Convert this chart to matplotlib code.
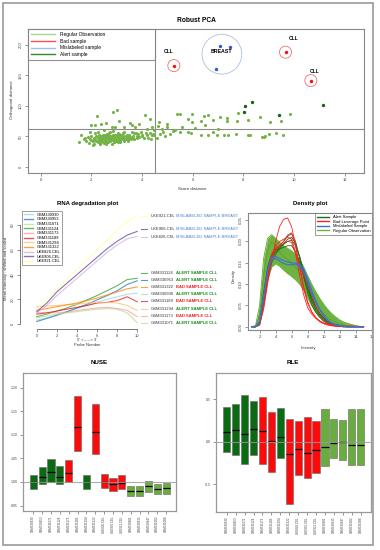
import matplotlib
matplotlib.use('Agg')
import matplotlib.pyplot as plt
from matplotlib.lines import Line2D

plt.rcParams['font.family'] = ['Liberation Sans', 'DejaVu Sans']

# ---------------- Robust PCA ----------------
reg_points = [
    (1.50, 41), (1.60, 52), (1.70, 45), (1.75, 47), (1.80, 43), (1.85, 49), (1.90, 39), (1.95, 46), (2.00, 50), (2.00, 44),
    (2.05, 42), (2.10, 48), (2.10, 38), (2.15, 45), (2.20, 51), (2.20, 43), (2.25, 47), (2.25, 40), (2.30, 49), (2.30, 44),
    (2.35, 46), (2.35, 37), (2.40, 50), (2.40, 42), (2.40, 48), (2.45, 53), (2.45, 41), (2.50, 45), (2.50, 39), (2.50, 47),
    (2.55, 52), (2.55, 44), (2.60, 49), (2.60, 43), (2.60, 46), (2.65, 40), (2.65, 51), (2.70, 45), (2.70, 48), (2.70, 55),
    (2.75, 42), (2.75, 47), (2.80, 50), (2.80, 38), (2.80, 46), (2.85, 53), (2.85, 44), (2.90, 49), (2.90, 41), (2.90, 48),
    (2.95, 45), (2.95, 52), (3.00, 43), (3.00, 47), (3.00, 50), (3.05, 40), (3.05, 46), (3.10, 54), (3.10, 44), (3.10, 49),
    (3.15, 48), (3.15, 42), (3.20, 51), (3.20, 45), (3.25, 56), (3.25, 47), (3.30, 43), (3.30, 50), (3.35, 46), (3.40, 53),
    (3.40, 49), (3.45, 44), (3.50, 47), (3.50, 52), (3.55, 45), (3.60, 58), (3.60, 48), (3.65, 50), (3.70, 46), (3.75, 55),
    (3.80, 51), (3.80, 47), (3.85, 54), (3.90, 49), (3.95, 57), (4.00, 52), (4.00, 50), (4.10, 48), (4.15, 55), (4.20, 53),
    (4.25, 47), (4.30, 56), (4.35, 45), (4.40, 52), (4.45, 54), (2.05, 36), (2.35, 39), (2.60, 37), (2.90, 41), (3.15, 40),
    (3.45, 43), (2.25, 58), (2.75, 57), (3.05, 56), (1.95, 57), (2.50, 60), (2.85, 59), (3.30, 58), (3.70, 55), (2.15, 56),
    (2.12, 46), (2.28, 42), (2.42, 45), (2.58, 41), (2.68, 43), (2.78, 44), (2.88, 46), (2.98, 42), (3.08, 45), (3.22, 47),
    (3.38, 45), (3.52, 49), (2.32, 52), (2.48, 50), (2.62, 54), (2.72, 50), (2.92, 53), (3.02, 52), (3.18, 53), (3.42, 51),
    (4.47, 52.5), (4.71, 54.5), (5.12, 54.7), (4.85, 57), (5.24, 59.5), (5.51, 57), (5.94, 55), (6.34, 52), (6.62, 52), (6.79, 58),
    (6.98, 52.5), (7.25, 52), (7.40, 51.7), (7.71, 54.5), (8.18, 52), (8.26, 53), (8.73, 49.7), (8.87, 50.8), (8.83, 49), (9.00, 54.5),
    (9.29, 55), (9.56, 52.5), (4.49, 60.6), (4.65, 67), (4.99, 64.8), (4.67, 73), (4.20, 62), (4.40, 65), (4.60, 48), (4.90, 50),
    (5.30, 61), (5.60, 66), (6.10, 63), (6.50, 68), (5.00, 70), (4.80, 62), (5.80, 58), (7.00, 62),
    (3.03, 93.4), (2.85, 90.7), (2.22, 83.9), (4.11, 85.6), (5.38, 87), (5.51, 85.9), (5.96, 86), (6.47, 84), (6.60, 85.6), (7.07, 81),
    (7.81, 88), (8.65, 81.5), (9.86, 87), (7.35, 80), (6.80, 77), (5.81, 77.7), (7.36, 75), (8.17, 77), (7.74, 75), (9.05, 73.7),
    (9.50, 75), (6.34, 75), (5.96, 73), (2.60, 72), (3.10, 75), (2.40, 70), (3.60, 68), (3.90, 71), (4.30, 78), (3.30, 66),
    (2.00, 68), (2.80, 65), (2.15, 69), (2.94, 66), (3.53, 72.7), (3.73, 66),
]
reg_x = [p[0] for p in reg_points]
reg_y = [p[1] for p in reg_points]
alert_x = [8.07, 8.35, 8.04, 9.43, 11.16]
alert_y = [100, 107, 90, 85, 102]
bad_x = [5.26, 9.67, 10.67]
bad_y = [166, 188, 141.5]
mis_x = [7.07, 7.48, 6.92]
mis_y = [198, 196, 160]
cut_score = 4.52
cut_orth = 62

# ---------------- RNA degradation ----------------
probe = [0, 1, 2, 3, 4, 5, 6, 7, 8, 9, 10]
rna_names = ['GSM330930', 'GSM330953', 'GSM331071', 'GSM331124', 'GSM331173', 'GSM331189',
             'GSM331294', 'GSM331322', 'UKE826.CEL', 'UKE906.CEL', 'UKE921.CEL']
rna_vals = [
    [3, 5, 7.5, 10, 12.5, 15, 17.5, 20, 22, 24, 25],
    [2, 4.5, 7, 10, 13, 16, 19.5, 23, 27, 32, 35],
    [5, 6.5, 8, 9, 10, 11, 12, 12.5, 12, 9, 1],
    [6, 8, 10.5, 13, 16, 19.5, 23, 27, 31, 36, 37],
    [9, 9.5, 9, 9.5, 11, 12, 13, 13.5, 12.5, 11, 6],
    [8, 9, 10.5, 12, 13.5, 15, 17, 17.5, 19, 22, 18],
    [14, 14.5, 15, 15.5, 16, 17, 17.5, 17.5, 17, 15, 11],
    [11, 12.5, 14, 15.5, 17, 19, 21, 23.5, 26, 28.5, 30],
    [9, 15, 23, 30, 37, 44, 51, 58, 64, 69, 71],
    [10, 17, 26, 33, 40, 47, 54, 61, 67, 72, 75],
    [12, 20, 28, 36, 44, 52, 60, 68, 76, 83, 88],
]
rna_colors = ['#A6CEE3', '#1F78B4', '#B2DF8A', '#33A02C', '#FB9A99', '#E31A1C',
              '#FDBF6F', '#FF7F00', '#CAB2D6', '#6A3D9A', '#FFFF99']
rna_status = ['ALERT SAMPLE CLL', 'ALERT SAMPLE CLL', 'ALERT SAMPLE CLL', 'ALERT SAMPLE CLL',
              'BAD SAMPLE CLL', 'BAD SAMPLE CLL', 'ALERT SAMPLE CLL', 'BAD SAMPLE CLL',
              'MISLABELED SAMPLE BREAST', 'MISLABELED SAMPLE BREAST', 'MISLABELED SAMPLE BREAST']
label_rows_px = [216, 229.3, 237, 273.3, 280.3, 287.3, 294.3, 301.3, 308.7, 316, 323]

# ---------------- Density ----------------
dens_x = [1.0, 1.5, 2.0, 2.5, 3.0, 3.5, 4.0, 4.5, 5.0, 5.5, 6.0, 6.5, 7.0, 7.5, 8.0,
          8.5, 9.0, 9.5, 10.0, 10.5, 11.0, 11.5, 12.0, 12.5, 13.0, 13.5, 14.0, 14.5, 15.0]
reg_hi = [0, 0.003, 0.05, 0.16, 0.207, 0.216, 0.207, 0.198, 0.19, 0.184, 0.178, 0.17, 0.158, 0.14, 0.12,
          0.1, 0.083, 0.067, 0.053, 0.041, 0.031, 0.023, 0.016, 0.011, 0.008, 0.005, 0.003, 0.001, 0]
reg_lo = [0, 0, 0.004, 0.05, 0.11, 0.14, 0.148, 0.142, 0.133, 0.125, 0.118, 0.11, 0.1, 0.086, 0.068,
          0.05, 0.035, 0.024, 0.015, 0.009, 0.005, 0.002, 0.001, 0, 0, 0, 0, 0, 0]
reg_mid = [0, 0.001, 0.03, 0.12, 0.18, 0.2, 0.19, 0.175, 0.165, 0.158, 0.15, 0.14, 0.128, 0.11, 0.09,
           0.07, 0.055, 0.042, 0.031, 0.022, 0.015, 0.01, 0.006, 0.004, 0.002, 0.001, 0, 0, 0]
alert_dens = [
    [0, 0, 0.01, 0.07, 0.13, 0.16, 0.175, 0.185, 0.195, 0.205, 0.21, 0.195, 0.165, 0.125, 0.088,
     0.06, 0.04, 0.026, 0.016, 0.009, 0.005, 0.003, 0.001, 0, 0, 0, 0, 0, 0],
    [0, 0, 0.008, 0.06, 0.125, 0.165, 0.18, 0.19, 0.2, 0.212, 0.218, 0.2, 0.16, 0.118, 0.08,
     0.052, 0.034, 0.022, 0.013, 0.007, 0.004, 0.002, 0.001, 0, 0, 0, 0, 0, 0],
    [0, 0, 0.012, 0.08, 0.14, 0.17, 0.18, 0.182, 0.186, 0.19, 0.19, 0.175, 0.15, 0.118, 0.09,
     0.066, 0.047, 0.032, 0.021, 0.013, 0.008, 0.005, 0.003, 0.001, 0, 0, 0, 0, 0],
    [0, 0, 0.006, 0.05, 0.11, 0.15, 0.17, 0.183, 0.193, 0.2, 0.203, 0.19, 0.165, 0.132, 0.1,
     0.07, 0.047, 0.03, 0.018, 0.01, 0.006, 0.003, 0.002, 0.001, 0, 0, 0, 0, 0],
]
bad_dens = [
    [0, 0, 0.005, 0.04, 0.1, 0.155, 0.2, 0.235, 0.252, 0.255, 0.235, 0.19, 0.14, 0.095, 0.06,
     0.036, 0.021, 0.012, 0.007, 0.004, 0.002, 0.001, 0, 0, 0, 0, 0, 0, 0],
    [0, 0, 0.008, 0.06, 0.12, 0.16, 0.18, 0.19, 0.2, 0.215, 0.22, 0.19, 0.14, 0.09, 0.055,
     0.035, 0.022, 0.014, 0.009, 0.006, 0.004, 0.003, 0.002, 0.001, 0.001, 0.001, 0.001, 0, 0],
    [0, 0, 0.006, 0.05, 0.11, 0.165, 0.19, 0.2, 0.205, 0.21, 0.205, 0.175, 0.142, 0.12, 0.1,
     0.075, 0.05, 0.03, 0.017, 0.009, 0.005, 0.003, 0.002, 0.001, 0.001, 0.002, 0.001, 0, 0],
    [0, 0, 0.01, 0.07, 0.13, 0.17, 0.185, 0.19, 0.195, 0.2, 0.198, 0.17, 0.12, 0.075, 0.045,
     0.03, 0.02, 0.013, 0.008, 0.005, 0.003, 0.002, 0.001, 0, 0, 0, 0, 0, 0],
]
mis_dens = [
    [0, 0, 0.01, 0.065, 0.13, 0.162, 0.165, 0.16, 0.155, 0.152, 0.15, 0.149, 0.146, 0.136, 0.112,
     0.086, 0.062, 0.042, 0.027, 0.016, 0.009, 0.005, 0.003, 0.001, 0, 0, 0, 0, 0],
    [0, 0, 0.012, 0.07, 0.135, 0.158, 0.16, 0.154, 0.148, 0.146, 0.145, 0.147, 0.142, 0.128, 0.105,
     0.08, 0.058, 0.04, 0.026, 0.015, 0.008, 0.004, 0.002, 0.001, 0, 0, 0, 0, 0],
]

# ---------------- NUSE / RLE ----------------
samples = ['GSM330930', 'GSM330953', 'GSM331071', 'GSM331124', 'GSM331173', 'GSM331189',
           'GSM331294', 'GSM331322', 'UKE826.CEL', 'UKE906.CEL', 'UKE921.CEL',
           'GSM330901', 'GSM330915', 'GSM330947', 'GSM331002', 'GSM331088']
sample_group = ['alert', 'alert', 'alert', 'alert', 'bad', 'bad', 'alert', 'bad',
                'bad', 'bad', 'bad', 'reg', 'reg', 'reg', 'reg', 'reg']
nuse_low = [0.986, 0.995, 1.000, 0.9965, 1.000, 1.066, 0.986, 1.059, 0.9866, 0.9816, 0.9845,
            0.971, 0.971, 0.9788, 0.9746, 0.9753]
nuse_med = [1.000, 1.0099, 1.0205, 1.0113, 1.019, 1.1158, 1.000, 1.1052, 1.000, 0.995, 0.9986,
            0.9816, 0.9816, 0.9922, 0.9852, 0.9866]
nuse_high = [1.0148, 1.0318, 1.0487, 1.0346, 1.0459, 1.182, 1.0141, 1.1645, 1.0162, 1.0078, 1.0141,
             0.9922, 0.9922, 1.0028, 0.9958, 0.9972]
rle_low = [-0.125, -0.160, -0.262, -0.156, -0.262, -0.355, -0.191, -0.730, -0.395, -0.422, -0.371,
           -0.285, -0.188, -0.211, -0.277, -0.270]
rle_med = [0.109, 0.133, 0.094, 0.148, 0.121, 0.008, 0.051, -0.148, -0.086, -0.137, -0.102,
           -0.066, -0.016, -0.008, -0.035, -0.043]
rle_high = [0.402, 0.441, 0.551, 0.477, 0.527, 0.344, 0.391, 0.266, 0.238, 0.285, 0.238,
            0.383, 0.262, 0.254, 0.383, 0.379]

group_color = {'alert': '#0b6b12', 'bad': '#ff0a0a', 'reg': '#6aad3f'}

W, H = 380, 550


def box(l, t, r, b):
    return [l / W, 1 - b / H, (r - l) / W, (b - t) / H]


def ftext(x, y, s, **kw):
    fig.text(x / W, 1 - y / H, s, **kw)


def r_ticks(ax):
    ax.tick_params(labelsize=3, length=2, width=0.4, pad=1.5, colors='#444')
    for lab in ax.get_yticklabels():
        lab.set_rotation(90)
        lab.set_va('center')


fig = plt.figure(figsize=(3.8, 5.5), dpi=100)
fig.add_artist(plt.Rectangle((3 / W, 1 - 545 / H), 370 / W, 542 / H, fill=False,
                             ec='#9a9a9a', lw=1.2, transform=fig.transFigure))

# PCA
ax1 = fig.add_axes(box(28, 29, 364, 173))
ax1.scatter(reg_x, reg_y, s=5, c='#74b347', lw=0, zorder=3)
ax1.scatter(alert_x, alert_y, s=6, c='#17611a', lw=0, zorder=3)
ax1.scatter(bad_x, bad_y, s=6, c='#ee1111', lw=0, zorder=3)
ax1.scatter(mis_x, mis_y, s=6, c='#3355dd', lw=0, zorder=3)
ax1.scatter(bad_x, bad_y, s=75, facecolors='none', edgecolors='#f07070', lw=0.6, zorder=3)
ax1.scatter([sum(mis_x) / 3], [sum(mis_y) / 3], s=820, facecolors='none',
            edgecolors='#a9bfe0', lw=0.6, zorder=3)
for bx, by, off in zip(bad_x, bad_y, [(-4, 8), (6, 8), (3, 5)]):
    ax1.annotate('CLL', (bx, by), xytext=off, textcoords='offset points', fontsize=3.5,
                 fontweight='bold', ha='center', va='bottom')
ax1.text(sum(mis_x) / 3, sum(mis_y) / 3 + 5, 'BREAST', fontsize=3.8, fontweight='bold',
         ha='center', va='center')
ax1.axvline(cut_score, color='#8a8a8a', lw=0.8, zorder=1)
ax1.axhline(cut_orth, color='#8a8a8a', lw=0.8, zorder=1)
ax1.set_xlim(-0.5, 12.77)
ax1.set_ylim(-10, 226)
ax1.set_xticks([0, 2, 4, 6, 8, 10, 12])
ax1.set_yticks([0, 50, 100, 150, 200])
r_ticks(ax1)
for sp in ax1.spines.values():
    sp.set_color('#888')
    sp.set_linewidth(0.8)
pca_handles = [Line2D([], [], color=c, lw=1) for c in ['#a8d48a', '#ff4d4d', '#9fc3ea', '#2e8b30']]
leg = ax1.legend(pca_handles, ['Regular Observation', 'Bad sample', 'Mislabeled sample', 'Alert sample'],
                 loc='upper left', bbox_to_anchor=(0, 0, (cut_score + 0.5) / 13.27, 1), mode='expand',
                 borderaxespad=0, fontsize=3.5, handlelength=5, labelspacing=0.35,
                 fancybox=False, borderpad=0.6, handletextpad=1)
leg.get_frame().set_edgecolor('#777')
leg.get_frame().set_linewidth(0.8)
ftext(196, 20, 'Robust PCA', fontsize=4.8, fontweight='bold', ha='center', va='center')
ftext(192, 189, 'Score distance', fontsize=3.2, ha='center', va='center', color='#333')
ftext(12, 100, 'Orthogonal distance', fontsize=3.2, ha='center', va='center', rotation=90, color='#333')

# RNA degradation
ax2 = fig.add_axes(box(20, 212, 143, 329))
for vals, c in zip(rna_vals, rna_colors):
    ax2.plot(probe, vals, color=c, lw=0.8, alpha=0.75)
ax2.set_xlim(-1.67, 10.57)
ax2.set_ylim(-4.05, 90.7)
ax2.set_xticks([0, 2, 4, 6, 8, 10])
ax2.set_yticks([0, 20, 40, 60, 80])
for s in ['top', 'right']:
    ax2.spines[s].set_visible(False)
ax2.spines['left'].set_bounds(0, 80)
ax2.spines['bottom'].set_bounds(0, 10)
for s in ['left', 'bottom']:
    ax2.spines[s].set_linewidth(0.5)
    ax2.spines[s].set_color('#444')
r_ticks(ax2)
rna_handles = [Line2D([], [], color=c, lw=1, alpha=0.75) for c in rna_colors]
leg2 = ax2.legend(rna_handles, rna_names, loc='upper left', bbox_to_anchor=(0.016, 1.0085),
                  borderaxespad=0, fontsize=2.9, handlelength=2.4, labelspacing=0.16,
                  fancybox=False, borderpad=0.45, handletextpad=0.7)
leg2.get_frame().set_edgecolor('#555')
leg2.get_frame().set_linewidth(0.5)
order = sorted(range(len(rna_names)), key=lambda i: -rna_vals[i][-1])
for row, i in zip(label_rows_px, order):
    fig.add_artist(Line2D([140.7 / W, 146.7 / W], [1 - row / H] * 2, color=rna_colors[i],
                          lw=0.8, alpha=0.75, transform=fig.transFigure))
    ftext(150.7, row, rna_names[i], fontsize=3, va='center', color='#333')
    st = rna_status[i]
    if st.startswith('MIS'):
        ftext(176, row, st, fontsize=3, va='center', color='#4a7fd0')
    elif st.startswith('BAD'):
        ftext(176, row, st, fontsize=3, va='center', color='#ee2020', fontweight='bold')
    else:
        ftext(176, row, st, fontsize=3, va='center', color='#178a17', fontweight='bold')
ftext(88, 203, 'RNA degradation plot', fontsize=4.3, fontweight='bold', ha='center', va='center')
ftext(87, 340, "5' <-----> 3'", fontsize=3, ha='center', va='center', color='#333')
ftext(87, 345.5, 'Probe Number', fontsize=3, ha='center', va='center', color='#333')
ftext(6, 268, 'Mean Intensity : shifted and scaled', fontsize=3, ha='center', va='center',
      rotation=90, color='#333')

# Density
ax3 = fig.add_axes(box(248, 213.3, 372, 330))
ax3.fill_between(dens_x, reg_lo, reg_hi, color='#6db33f', lw=0, zorder=1)
ax3.plot(dens_x, reg_hi, color='#6db33f', lw=0.7, zorder=1)
ax3.plot(dens_x, reg_lo, color='#6db33f', lw=0.7, zorder=1)
ax3.plot(dens_x, reg_mid, color='#5a9e30', lw=0.5, zorder=1)
for d in alert_dens:
    ax3.plot(dens_x, d, color='#17701a', lw=0.6, zorder=2)
for d in bad_dens:
    ax3.plot(dens_x, d, color='#ff2020', lw=0.6, zorder=2)
for d in mis_dens:
    ax3.plot(dens_x, d, color='#3d6fd8', lw=0.8, zorder=3)
ax3.set_xlim(0.55, 16.05)
ax3.set_ylim(-0.0077, 0.266)
ax3.set_xticks([2, 4, 6, 8, 10, 12, 14, 16])
ax3.set_yticks([0, 0.05, 0.10, 0.15, 0.20, 0.25])
ax3.set_yticklabels(['0.00', '0.05', '0.10', '0.15', '0.20', '0.25'])
r_ticks(ax3)
for sp in ax3.spines.values():
    sp.set_color('#888')
    sp.set_linewidth(0.8)
dens_handles = [Line2D([], [], color=c, lw=1) for c in ['#17701a', '#ff2020', '#3d6fd8', '#6db33f']]
leg3 = ax3.legend(dens_handles, ['Alert Sample', 'Bad Leverage Point', 'Mislabeled Sample',
                                 'Regular Observation'],
                  loc='upper right', borderaxespad=0, fontsize=3, handlelength=3,
                  labelspacing=0.15, fancybox=False, borderpad=0.4, handletextpad=0.8)
leg3.get_frame().set_edgecolor('#555')
leg3.get_frame().set_linewidth(0.5)
ftext(310, 204, 'Density plot', fontsize=4.3, fontweight='bold', ha='center', va='center')
ftext(308, 347.5, 'Intensity', fontsize=3, ha='center', va='center', color='#333')
ftext(233.5, 276, 'Density', fontsize=3, ha='center', va='center', rotation=90, color='#333')

# NUSE and RLE
pos = list(range(1, len(samples) + 1))
cols = [group_color[g] for g in sample_group]
for rect, low, med, high, ref, yl, yt, ylab, title, tx in [
        ((22.7, 372.7, 176, 510.7), nuse_low, nuse_med, nuse_high, 1.0, (0.939, 1.2316),
         [0.95, 1.00, 1.05, 1.10, 1.15, 1.20], ['0.95', '1.00', '1.05', '1.10', '1.15', '1.20'], 'NUSE', 99),
        ((216, 372.7, 370.7, 511.7), rle_low, rle_med, rle_high, 0.0, (-0.82, 0.809),
         [-0.5, 0.0, 0.5], ['-0.5', '0.0', '0.5'], 'RLE', 293)]:
    ax = fig.add_axes(box(*rect))
    ax.bar(pos, [h - l for h, l in zip(high, low)], bottom=low, width=0.8, color=cols,
           edgecolor='#666', lw=0.4, zorder=2)
    ax.hlines(med, [p - 0.4 for p in pos], [p + 0.4 for p in pos], color='black', lw=0.9, zorder=3)
    ax.axhline(ref, color='#999', lw=0.8, alpha=0.8, zorder=4)
    ax.set_xlim(-0.2, 17.12)
    ax.set_ylim(*yl)
    ax.set_yticks(yt)
    ax.set_yticklabels(ylab)
    ax.set_xticks(pos)
    ax.set_xticklabels(samples, rotation=90, fontsize=2.2)
    ax.tick_params(axis='y', labelsize=2.5)
    ax.tick_params(length=2, width=0.4, pad=1.5, colors='#444')
    ax.tick_params(axis='x', labelsize=2.2)
    for sp in ax.spines.values():
        sp.set_color('#999')
        sp.set_linewidth(0.9)
    ftext(tx, 362, title, fontsize=4.5, fontweight='bold', ha='center', va='center')

fig.savefig('out.png', dpi=100)
